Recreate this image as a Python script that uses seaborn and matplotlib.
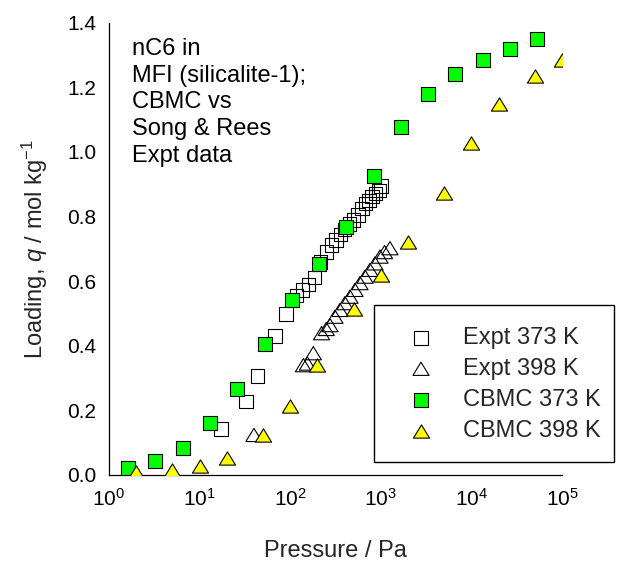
import matplotlib
matplotlib.use("Agg")
import matplotlib.pyplot as plt
from matplotlib.patches import Rectangle
from matplotlib.path import Path
from matplotlib.ticker import MultipleLocator, LogLocator, NullFormatter, FormatStrFormatter
import seaborn as sns
import pandas as pd

# nC6 in MFI: CBMC simulations vs Song & Rees experiments
expt_373_p = [17.2, 32.5, 43.8, 68, 90, 118, 136, 160, 185, 215, 250, 285, 320, 360,
              400, 450, 500, 560, 620, 680, 740, 800, 870, 950, 1010]
expt_373_q = [0.143, 0.228, 0.306, 0.430, 0.498, 0.555, 0.572, 0.590, 0.612, 0.660, 0.690,
              0.712, 0.727, 0.745, 0.760, 0.777, 0.790, 0.805, 0.825, 0.840, 0.850, 0.862,
              0.872, 0.880, 0.895]

expt_398_p = [39.8, 140, 155, 180, 222, 250, 275, 312, 354, 402, 457, 519, 589, 670, 760,
              863, 980, 1100, 1262]
expt_398_q = [0.124, 0.340, 0.345, 0.377, 0.439, 0.452, 0.464, 0.490, 0.511, 0.532, 0.552,
              0.573, 0.594, 0.614, 0.635, 0.655, 0.676, 0.690, 0.702]

cbmc_373_p = [1.63, 3.26, 6.51, 13.0, 26.0, 52.1, 104, 208, 417, 833, 1667, 3333, 6667,
              13333, 26667, 53333]
cbmc_373_q = [0.021, 0.043, 0.085, 0.160, 0.267, 0.407, 0.541, 0.652, 0.769, 0.926, 1.076,
              1.180, 1.241, 1.283, 1.320, 1.349]

cbmc_398_p = [2, 5, 10, 20, 50, 100, 200, 500, 1000, 2000, 5000, 1e4, 2e4, 5e4, 1e5]
cbmc_398_q = [0.008, 0.015, 0.028, 0.054, 0.124, 0.214, 0.341, 0.513, 0.620, 0.722, 0.874,
              1.029, 1.148, 1.236, 1.283]

series_labels = ["Expt 373 K", "Expt 398 K", "CBMC 373 K", "CBMC 398 K"]
note_lines = ["nC6 in", "MFI (silicalite-1);", "CBMC vs", "Song & Rees", "Expt data"]
y_ticks = [0.0, 0.2, 0.4, 0.6, 0.8, 1.0, 1.2, 1.4]

sns.set_style("white")
plt.rcParams["font.family"] = ["Liberation Sans", "DejaVu Sans"]
plt.rcParams["mathtext.fontset"] = "custom"
plt.rcParams["mathtext.rm"] = "Liberation Sans"
plt.rcParams["mathtext.it"] = "Liberation Sans:italic"
plt.rcParams["mathtext.bf"] = "Liberation Sans:bold"

W, H = 618, 563
fig = plt.figure(figsize=(W / 100, H / 100), dpi=100)
fig.patch.set_facecolor("white")
ax = fig.add_axes([109 / W, 1 - 475 / H, (562 - 109) / W, (475 - 22.7) / H])

# slightly flattened triangle marker
tri = Path([(-1, -0.82), (1, -0.82), (0, 0.82), (-1, -0.82)],
           [Path.MOVETO, Path.LINETO, Path.LINETO, Path.CLOSEPOLY])

sq_size = 94
tri_size = 135

def frame(p, q, name):
    return pd.DataFrame({"p": p, "q": q, "series": name})

sns.scatterplot(data=frame(expt_373_p, expt_373_q, series_labels[0]), x="p", y="q",
                marker="s", s=sq_size, facecolor="none", edgecolor="black",
                linewidth=0.8, label=series_labels[0], ax=ax, zorder=2)
sns.scatterplot(data=frame(expt_398_p, expt_398_q, series_labels[1]), x="p", y="q",
                marker=tri, s=tri_size, facecolor="none", edgecolor="black",
                linewidth=0.8, label=series_labels[1], ax=ax, zorder=2)
sns.scatterplot(data=frame(cbmc_373_p, cbmc_373_q, series_labels[2]), x="p", y="q",
                marker="s", s=sq_size, color="#00ff00", edgecolor="black",
                linewidth=0.8, label=series_labels[2], ax=ax, zorder=3)
sns.scatterplot(data=frame(cbmc_398_p, cbmc_398_q, series_labels[3]), x="p", y="q",
                marker=tri, s=tri_size, color="#ffff00", edgecolor="black",
                linewidth=0.8, label=series_labels[3], ax=ax, zorder=4)

ax.set_xscale("log")
ax.set_xlim(1, 1e5)
ax.set_ylim(0, 1.4)
ax.set_yticks(y_ticks)
ax.yaxis.set_major_formatter(FormatStrFormatter("%.1f"))
ax.yaxis.set_minor_locator(MultipleLocator(0.04))
ax.xaxis.set_major_locator(LogLocator(base=10, numticks=10))
ax.xaxis.set_minor_locator(LogLocator(base=10, subs=range(2, 10), numticks=20))
ax.xaxis.set_minor_formatter(NullFormatter())

for side in ("top", "right"):
    ax.spines[side].set_visible(False)
for side in ("left", "bottom"):
    ax.spines[side].set_color("black")
    ax.spines[side].set_linewidth(0.9)

ax.tick_params(axis="both", which="both", direction="in", colors="black",
               labelsize=15, width=0.8)
ax.tick_params(axis="y", which="major", length=7.2, pad=9)
ax.tick_params(axis="y", which="minor", length=5.2)
ax.tick_params(axis="x", which="major", length=7.2, pad=9)
ax.tick_params(axis="x", which="minor", length=3.6)

ax.set_xlabel("Pressure / Pa", fontsize=17)
ax.set_ylabel(r"Loading, $q$ / mol kg$^{\mathregular{-1}}$", fontsize=17)
ax.xaxis.set_label_coords(0.5, -(540 - 475) / 452.3)
ax.yaxis.set_label_coords((50 - 109) / 453, 0.5)

# annotation block at the upper left
for i, line in enumerate(note_lines):
    base_y = 55 + i * 26.67
    ax.text(132 / W, 1 - base_y / H, line, transform=fig.transFigure,
            fontsize=17, ha="left", va="baseline", color="black")

# legend frame
box = Rectangle((374 / W, 1 - 462 / H), (614 - 374) / W, (462 - 305) / H,
                transform=fig.transFigure, facecolor="white", edgecolor="black",
                linewidth=1.0, clip_on=False, zorder=5)
ax.add_patch(box)

fs_px = 17 * 100 / 72
hl = 1.0
leg = ax.legend(loc="upper left",
                bbox_to_anchor=((421 - hl * fs_px / 2) / W, 1 - 327 / H),
                bbox_transform=fig.transFigure, frameon=False, fontsize=17,
                handlelength=hl, handletextpad=(462.7 - 421 - hl * fs_px / 2) / fs_px,
                labelspacing=0.38, borderpad=0, borderaxespad=0, scatterpoints=1)
leg.set_zorder(6)

fig.savefig("out.png", dpi=100, facecolor="white")
